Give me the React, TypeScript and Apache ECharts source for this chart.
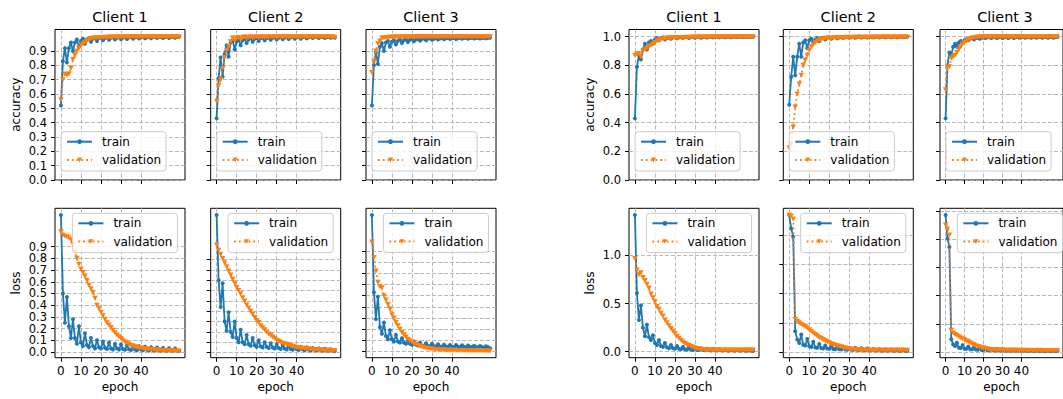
import React, { useEffect, useRef } from "react";
import * as echarts from "echarts";

// ---------- data ----------
const clients = ["Client 1", "Client 2", "Client 3"];
const epochTicks = [0, 10, 20, 30, 40];
const tenthTicks = [0, 0.1, 0.2, 0.3, 0.4, 0.5, 0.6, 0.7, 0.8, 0.9];
const accTicksB = [0, 0.2, 0.4, 0.6, 0.8, 1.0];
const lossTicksB1 = [0, 0.5, 1.0];
const lossTicksB2 = [0, 0.2, 0.4, 0.6, 0.8];
const lossTicksB3 = [0, 0.2, 0.4, 0.6, 0.8, 1.0];

// left run (A)
const accTrainA1 = [0.52,0.83,0.92,0.82,0.92,0.96,0.90,0.96,0.98,0.93,0.97,0.985,0.95,0.98,0.99,0.965,0.985,0.99,0.97,0.99,0.993,0.975,0.99,0.995,0.978,0.992,0.995,0.98,0.993,0.996,0.982,0.994,0.996,0.984,0.995,0.997,0.985,0.995,0.997,0.987,0.996,0.998,0.988,0.996,0.998,0.989,0.997,0.998,0.99,0.997,0.998,0.99,0.997,0.999,0.99,0.998,0.999,0.992,0.998,0.999];
const accValA1 = [0.56,0.70,0.74,0.73,0.74,0.78,0.84,0.87,0.90,0.92,0.94,0.95,0.96,0.97,0.98,0.985,0.99,0.99,0.992,0.993,0.994,0.994,0.996,0.995,0.997,0.996,0.997,0.998,0.997,0.998,0.998,0.997,0.998,0.999,0.998,0.999,0.998,0.999,0.999,0.998,0.999,1.0,0.999,0.999,1.0,0.999,1.0,0.999,1.0,1.0,0.999,1.0,1.0,0.999,1.0,1.0,1.0,0.999,1.0,1.0];
const lossTrainA1 = [1.17,0.50,0.25,0.47,0.22,0.12,0.28,0.12,0.07,0.22,0.08,0.05,0.16,0.06,0.04,0.12,0.05,0.03,0.10,0.04,0.03,0.09,0.035,0.025,0.08,0.03,0.02,0.07,0.03,0.02,0.065,0.025,0.018,0.06,0.022,0.016,0.055,0.02,0.015,0.05,0.02,0.014,0.045,0.018,0.013,0.04,0.017,0.012,0.038,0.016,0.011,0.035,0.015,0.01,0.032,0.014,0.01,0.03,0.013,0.009];
const lossValA1 = [1.03,1.00,0.99,0.985,0.975,0.96,0.92,0.86,0.80,0.75,0.71,0.68,0.65,0.61,0.57,0.54,0.51,0.46,0.40,0.37,0.34,0.31,0.28,0.25,0.23,0.21,0.185,0.165,0.145,0.13,0.115,0.10,0.085,0.075,0.065,0.055,0.05,0.045,0.04,0.037,0.033,0.03,0.027,0.025,0.023,0.021,0.02,0.018,0.017,0.016,0.015,0.014,0.013,0.012,0.012,0.011,0.01,0.01,0.009,0.009];

const accTrainA2 = [0.43,0.71,0.855,0.72,0.88,0.94,0.86,0.96,0.975,0.91,0.965,0.98,0.94,0.975,0.985,0.955,0.98,0.99,0.965,0.985,0.99,0.97,0.99,0.993,0.975,0.99,0.994,0.978,0.992,0.995,0.98,0.993,0.996,0.982,0.994,0.996,0.984,0.995,0.997,0.985,0.995,0.997,0.986,0.996,0.998,0.988,0.996,0.998,0.99,0.997,0.998,0.99,0.997,0.998,0.99,0.997,0.998,0.992,0.998,0.993];
const accValA2 = [0.55,0.66,0.70,0.78,0.855,0.905,0.93,0.965,0.99,0.975,0.99,0.995,0.98,0.995,1.0,0.99,0.995,1.0,0.993,0.997,1.0,0.994,0.998,1.0,0.995,0.998,1.0,0.996,0.999,1.0,0.996,0.999,1.0,0.997,0.999,1.0,0.997,0.999,1.0,0.997,0.999,1.0,0.998,0.999,1.0,0.998,0.999,1.0,0.998,0.999,1.0,0.998,0.999,1.0,0.998,0.999,1.0,0.998,0.999,0.995];
const lossTrainA2 = [1.33,0.70,0.44,0.67,0.30,0.21,0.39,0.20,0.15,0.30,0.14,0.10,0.22,0.10,0.08,0.17,0.08,0.065,0.14,0.07,0.055,0.12,0.06,0.05,0.10,0.055,0.045,0.09,0.05,0.04,0.08,0.045,0.035,0.07,0.04,0.03,0.065,0.035,0.028,0.06,0.032,0.025,0.055,0.03,0.023,0.05,0.028,0.02,0.045,0.026,0.019,0.04,0.024,0.018,0.036,0.022,0.017,0.032,0.02,0.016];
const lossValA2 = [1.04,0.99,0.95,0.91,0.87,0.83,0.79,0.75,0.71,0.67,0.63,0.60,0.57,0.53,0.50,0.46,0.43,0.40,0.37,0.34,0.31,0.29,0.26,0.24,0.22,0.20,0.18,0.165,0.15,0.135,0.12,0.11,0.10,0.09,0.085,0.08,0.072,0.065,0.06,0.055,0.05,0.047,0.044,0.041,0.038,0.036,0.034,0.032,0.03,0.029,0.027,0.026,0.025,0.024,0.023,0.022,0.022,0.021,0.02,0.02];

const accTrainA3 = [0.52,0.80,0.89,0.81,0.93,0.955,0.90,0.96,0.97,0.93,0.965,0.975,0.945,0.97,0.98,0.955,0.975,0.982,0.962,0.978,0.985,0.968,0.98,0.986,0.972,0.983,0.988,0.975,0.985,0.989,0.978,0.986,0.99,0.98,0.987,0.99,0.982,0.988,0.991,0.983,0.989,0.991,0.984,0.989,0.992,0.985,0.99,0.992,0.986,0.99,0.992,0.987,0.991,0.993,0.987,0.991,0.993,0.988,0.992,0.993];
const accValA3 = [0.75,0.83,0.90,0.95,0.97,0.99,0.99,0.995,0.995,0.996,0.997,0.997,0.998,0.997,0.998,0.998,0.999,0.998,0.999,0.999,0.998,0.999,1.0,0.999,0.999,1.0,0.999,1.0,0.999,1.0,1.0,0.999,1.0,1.0,0.999,1.0,1.0,1.0,0.999,1.0,1.0,1.0,0.999,1.0,1.0,1.0,1.0,0.999,1.0,1.0,1.0,1.0,0.999,1.0,1.0,1.0,1.0,1.0,1.0,1.0];
const lossTrainA3 = [1.22,0.53,0.29,0.49,0.22,0.16,0.26,0.14,0.11,0.19,0.11,0.09,0.15,0.09,0.08,0.12,0.08,0.07,0.10,0.07,0.06,0.09,0.06,0.055,0.08,0.055,0.05,0.075,0.05,0.047,0.07,0.048,0.045,0.065,0.046,0.043,0.062,0.045,0.042,0.06,0.044,0.041,0.058,0.043,0.04,0.056,0.042,0.039,0.054,0.041,0.038,0.052,0.04,0.037,0.05,0.039,0.036,0.048,0.038,0.03];
const lossValA3 = [0.98,0.84,0.72,0.62,0.58,0.57,0.50,0.46,0.42,0.38,0.33,0.30,0.26,0.23,0.20,0.17,0.15,0.13,0.11,0.097,0.085,0.075,0.065,0.055,0.048,0.042,0.037,0.032,0.028,0.025,0.022,0.02,0.018,0.017,0.016,0.015,0.014,0.013,0.012,0.012,0.011,0.011,0.01,0.01,0.01,0.009,0.009,0.009,0.008,0.008,0.008,0.008,0.007,0.007,0.007,0.007,0.006,0.006,0.006,0.006];

// right run (B)
const accTrainB1 = [0.43,0.79,0.87,0.84,0.91,0.95,0.91,0.96,0.97,0.95,0.98,0.99,0.975,0.99,0.995,0.98,0.99,0.995,0.985,0.995,0.997,0.988,0.996,0.998,0.99,0.997,0.998,0.99,0.997,0.999,0.992,0.998,0.999,0.993,0.998,0.999,0.994,0.999,1.0,0.995,0.999,1.0,0.995,0.999,1.0,0.996,0.999,1.0,0.996,1.0,1.0,0.997,1.0,1.0,0.997,1.0,1.0,0.997,1.0,1.0];
const accValB1 = [0.87,0.88,0.88,0.86,0.90,0.91,0.92,0.93,0.94,0.95,0.96,0.97,0.975,0.98,0.985,0.985,0.99,0.99,0.99,0.992,0.993,0.99,0.994,0.995,0.993,0.995,0.996,0.995,0.996,0.997,0.996,0.997,0.998,0.997,0.998,0.998,0.997,0.998,0.999,0.998,0.999,0.999,0.998,0.999,1.0,0.999,0.999,1.0,0.999,1.0,1.0,0.999,1.0,1.0,0.999,1.0,1.0,1.0,1.0,1.0];
const lossTrainB1 = [1.42,0.61,0.33,0.48,0.25,0.16,0.28,0.15,0.12,0.17,0.09,0.07,0.12,0.06,0.05,0.09,0.045,0.035,0.07,0.035,0.03,0.06,0.03,0.025,0.05,0.025,0.02,0.045,0.022,0.018,0.04,0.02,0.016,0.035,0.018,0.015,0.03,0.016,0.013,0.028,0.015,0.012,0.025,0.014,0.011,0.022,0.013,0.01,0.02,0.012,0.01,0.018,0.011,0.009,0.017,0.01,0.009,0.015,0.01,0.008];
const lossValB1 = [0.97,0.85,0.80,0.82,0.77,0.74,0.70,0.66,0.60,0.56,0.52,0.47,0.44,0.40,0.37,0.33,0.30,0.27,0.24,0.215,0.19,0.16,0.14,0.12,0.10,0.085,0.072,0.063,0.053,0.045,0.038,0.033,0.029,0.026,0.023,0.021,0.02,0.019,0.018,0.017,0.016,0.016,0.017,0.016,0.016,0.017,0.016,0.016,0.017,0.016,0.017,0.016,0.016,0.017,0.016,0.017,0.017,0.016,0.017,0.018];

const accTrainB2 = [0.525,0.72,0.86,0.73,0.86,0.95,0.86,0.96,0.975,0.92,0.975,0.985,0.96,0.98,0.99,0.97,0.99,0.993,0.98,0.993,0.996,0.985,0.995,0.997,0.988,0.996,0.998,0.99,0.997,0.998,0.992,0.997,0.999,0.993,0.998,0.999,0.994,0.998,0.999,0.994,0.998,0.999,0.995,0.999,1.0,0.995,0.999,1.0,0.996,0.999,1.0,0.996,0.999,1.0,0.996,0.999,1.0,0.997,0.999,1.0];
const accValB2 = [0.225,0.25,0.37,0.51,0.60,0.67,0.73,0.80,0.835,0.87,0.905,0.93,0.945,0.96,0.97,0.975,0.98,0.985,0.985,0.99,0.99,0.985,0.99,0.993,0.99,0.994,0.995,0.99,0.995,0.996,0.993,0.995,0.996,0.994,0.996,0.997,0.994,0.996,0.997,0.995,0.996,0.997,0.995,0.997,0.998,0.995,0.997,0.998,0.996,0.997,0.998,0.996,0.997,0.998,0.996,0.997,0.998,0.996,0.997,0.997];
const lossTrainB2 = [0.936,0.844,0.787,0.143,0.085,0.062,0.12,0.05,0.045,0.09,0.04,0.035,0.07,0.032,0.03,0.055,0.028,0.025,0.045,0.024,0.022,0.04,0.021,0.02,0.035,0.019,0.018,0.032,0.017,0.016,0.03,0.016,0.015,0.028,0.015,0.014,0.026,0.014,0.013,0.024,0.013,0.012,0.022,0.012,0.011,0.02,0.011,0.01,0.019,0.01,0.01,0.018,0.01,0.009,0.017,0.009,0.009,0.016,0.009,0.008];
const lossValB2 = [0.936,0.93,0.91,0.223,0.21,0.20,0.19,0.18,0.175,0.165,0.153,0.142,0.13,0.12,0.11,0.10,0.093,0.085,0.078,0.07,0.063,0.057,0.052,0.047,0.043,0.04,0.036,0.032,0.028,0.025,0.022,0.02,0.019,0.018,0.017,0.016,0.015,0.015,0.014,0.014,0.013,0.013,0.013,0.012,0.013,0.012,0.012,0.013,0.012,0.012,0.013,0.012,0.012,0.012,0.013,0.012,0.012,0.013,0.012,0.012];

const accTrainB3 = [0.43,0.80,0.89,0.87,0.93,0.95,0.93,0.96,0.97,0.96,0.975,0.98,0.975,0.985,0.99,0.98,0.99,0.993,0.985,0.993,0.995,0.99,0.995,0.997,0.99,0.995,0.997,0.99,0.995,0.997,0.99,0.995,0.997,0.991,0.996,0.997,0.991,0.996,0.997,0.992,0.996,0.998,0.992,0.996,0.998,0.992,0.996,0.998,0.993,0.997,0.998,0.993,0.997,0.998,0.993,0.997,0.998,0.993,0.997,0.998];
const accValB3 = [0.63,0.79,0.79,0.85,0.86,0.87,0.89,0.91,0.93,0.95,0.96,0.97,0.98,0.985,0.99,0.993,0.995,0.997,0.998,0.998,0.999,0.999,1.0,0.999,1.0,1.0,0.999,1.0,1.0,1.0,0.999,1.0,1.0,1.0,1.0,0.999,1.0,1.0,1.0,1.0,1.0,1.0,0.999,1.0,1.0,1.0,1.0,1.0,1.0,1.0,1.0,1.0,1.0,1.0,1.0,1.0,1.0,1.0,1.0,1.0];
const lossTrainB3 = [0.971,0.805,0.745,0.091,0.055,0.043,0.067,0.031,0.03,0.05,0.025,0.024,0.04,0.02,0.02,0.035,0.018,0.017,0.03,0.016,0.015,0.026,0.014,0.013,0.022,0.013,0.012,0.02,0.012,0.011,0.018,0.011,0.01,0.016,0.01,0.01,0.015,0.01,0.01,0.014,0.01,0.01,0.014,0.01,0.009,0.013,0.01,0.009,0.013,0.01,0.009,0.012,0.009,0.009,0.012,0.009,0.009,0.012,0.009,0.009];
const lossValB3 = [0.90,0.87,0.83,0.155,0.135,0.125,0.118,0.11,0.10,0.095,0.088,0.08,0.073,0.066,0.058,0.052,0.046,0.041,0.036,0.032,0.029,0.026,0.023,0.021,0.019,0.018,0.017,0.016,0.016,0.015,0.015,0.014,0.014,0.014,0.013,0.014,0.013,0.013,0.013,0.013,0.012,0.013,0.013,0.012,0.012,0.013,0.012,0.012,0.012,0.013,0.012,0.012,0.012,0.012,0.012,0.012,0.012,0.012,0.012,0.012];

// ---------- layout ----------
const PANEL_LEFTS = [55, 210.7, 366, 629, 783.3, 940];
const PANEL_W = 130;
const ACC_TOP = 29.5;
const ACC_H = 150.5;
const LOSS_TOP = 208.3;
const LOSS_H = 149.4;
const FONT = "DejaVu Sans";
const TEXT = "#000";
const BLUE = "#1f77b4";
const ORANGE = "#ff7f0e";
const GRIDC = "#b0b0b0";

type Panel = {
  row: "acc" | "loss";
  col: number;
  train: number[];
  val: number[];
  ticks: number[];
  fixed?: [number, number];
  splitLabels?: boolean;
};

const panels: Panel[] = [
  { row: "acc", col: 0, train: accTrainA1, val: accValA1, ticks: tenthTicks, fixed: [0, 1.05] },
  { row: "acc", col: 1, train: accTrainA2, val: accValA2, ticks: tenthTicks, fixed: [0, 1.05] },
  { row: "acc", col: 2, train: accTrainA3, val: accValA3, ticks: tenthTicks, fixed: [0, 1.05] },
  { row: "acc", col: 3, train: accTrainB1, val: accValB1, ticks: accTicksB, fixed: [0, 1.05] },
  { row: "acc", col: 4, train: accTrainB2, val: accValB2, ticks: accTicksB, fixed: [0, 1.05] },
  { row: "acc", col: 5, train: accTrainB3, val: accValB3, ticks: accTicksB, fixed: [0, 1.05] },
  { row: "loss", col: 0, train: lossTrainA1, val: lossValA1, ticks: tenthTicks, splitLabels: true },
  { row: "loss", col: 1, train: lossTrainA2, val: lossValA2, ticks: tenthTicks },
  { row: "loss", col: 2, train: lossTrainA3, val: lossValA3, ticks: tenthTicks },
  { row: "loss", col: 3, train: lossTrainB1, val: lossValB1, ticks: lossTicksB1 },
  { row: "loss", col: 4, train: lossTrainB2, val: lossValB2, ticks: lossTicksB2 },
  { row: "loss", col: 5, train: lossTrainB3, val: lossValB3, ticks: lossTicksB3 },
];

const labelStyle = {
  fontFamily: FONT, fontSize: 11.5, color: TEXT,
  showMinLabel: true, showMaxLabel: true, hideOverlap: false,
};

function buildOption() {
  const grid: any[] = [];
  const xAxis: any[] = [];
  const yAxis: any[] = [];
  const extraY: any[] = [];
  const series: any[] = [];
  const legend: any[] = [];
  const graphic: any[] = [];

  const n = accTrainA1.length;
  const xMin = 0 - 0.05 * (n - 1);
  const xMax = n - 1 + 0.05 * (n - 1);

  panels.forEach((p, k) => {
    const left = PANEL_LEFTS[p.col];
    const top = p.row === "acc" ? ACC_TOP : LOSS_TOP;
    const height = p.row === "acc" ? ACC_H : LOSS_H;
    const firstCol = p.col === 0 || p.col === 3;
    const bottomRow = p.row === "loss";

    let yMin: number, yMax: number;
    if (p.fixed) {
      [yMin, yMax] = p.fixed;
    } else {
      const all = p.train.concat(p.val);
      const lo = Math.min(...all);
      const hi = Math.max(...all);
      yMin = lo - 0.05 * (hi - lo);
      yMax = hi + 0.05 * (hi - lo);
    }

    grid.push({
      left, top, width: PANEL_W, height,
      show: true, borderColor: "#000", borderWidth: 1, backgroundColor: "transparent",
      containLabel: false,
    });

    xAxis.push({
      type: "value", gridIndex: k, min: xMin, max: xMax,
      axisLine: { show: false, onZero: false },
      axisTick: { show: true, inside: false, length: 4, lineStyle: { color: "#000", width: 1 }, customValues: epochTicks },
      axisLabel: {
        ...labelStyle, fontSize: 12,
        show: bottomRow, customValues: epochTicks, margin: 7,
        formatter: (v: number) => String(Math.round(v)),
      },
      splitLine: { show: true, lineStyle: { color: GRIDC, width: 0.9, type: [4, 2] } },
      name: bottomRow ? "epoch" : "",
      nameLocation: "middle", nameGap: 23,
      nameTextStyle: { fontFamily: FONT, fontSize: 12, color: TEXT },
    });

    const mainLabels = p.splitLabels ? p.ticks.filter((_, i) => i % 2 === 0) : p.ticks;
    const altLabels = p.ticks.filter((_, i) => i % 2 === 1);

    yAxis.push({
      type: "value", gridIndex: k, min: yMin, max: yMax,
      axisLine: { show: false, onZero: false },
      axisTick: { show: true, inside: false, length: 4, lineStyle: { color: "#000", width: 1 }, customValues: p.ticks },
      axisLabel: {
        ...labelStyle,
        show: firstCol, customValues: mainLabels, margin: 8,
        formatter: (v: number) => v.toFixed(1),
      },
      splitLine: { show: true, lineStyle: { color: GRIDC, width: 0.9, type: [4, 2] } },
      name: firstCol ? (p.row === "acc" ? "accuracy" : "loss") : "",
      nameLocation: "middle", nameGap: 33,
      nameTextStyle: { fontFamily: FONT, fontSize: 12, color: TEXT },
    });

    if (p.splitLabels) {
      // second label layer for the same ticks, so tightly packed labels all stay visible
      extraY.push({
        type: "value", gridIndex: k, min: yMin, max: yMax, position: "left", offset: 0,
        axisLine: { show: false, onZero: false },
        axisTick: { show: false, customValues: altLabels },
        axisLabel: {
          ...labelStyle,
          show: true, customValues: altLabels, margin: 8,
          formatter: (v: number) => v.toFixed(1),
        },
        splitLine: { show: false },
      });
    }

    series.push({
      type: "line", name: "train", xAxisIndex: k, yAxisIndex: k,
      data: p.train.map((v, i) => [i, v]),
      symbol: "circle", symbolSize: 4,
      itemStyle: { color: BLUE },
      lineStyle: { color: BLUE, width: 1.8 },
      silent: true, animation: false, z: 2,
      emphasis: { disabled: true },
    });
    series.push({
      type: "line", name: "validation", xAxisIndex: k, yAxisIndex: k,
      data: p.val.map((v, i) => [i, v]),
      symbol: "path://M0,0L10,0L5,9Z", symbolSize: [5.5, 5],
      itemStyle: { color: ORANGE },
      lineStyle: { color: ORANGE, width: 1.8, type: [1.8, 3] },
      silent: true, animation: false, z: 3,
      emphasis: { disabled: true },
    });

    const legW = 106;
    const legH = 40;
    const legLeft = p.row === "acc" ? left + 6 : left + PANEL_W - 6.6 - legW;
    const legTop = p.row === "acc" ? top + height - 8.3 - legH : top + 5;
    legend.push({
      data: ["train", "validation"],
      orient: "vertical",
      left: legLeft, top: legTop,
      itemWidth: 25, itemHeight: 6, itemGap: 6.3,
      padding: [4, 5, 5, 5],
      backgroundColor: "rgba(255,255,255,0.8)",
      borderColor: "#cccccc", borderWidth: 1, borderRadius: 3,
      selectedMode: false,
      textStyle: { fontFamily: FONT, fontSize: 12, lineHeight: 12, color: TEXT, padding: [0, 0, 0, 5] },
      z: 10,
    });

    if (p.row === "acc") {
      graphic.push({
        type: "text", x: left + PANEL_W / 2, y: 16.5,
        style: {
          text: clients[p.col % 3], fontFamily: FONT, fontSize: 14.4, fill: TEXT,
          align: "center", verticalAlign: "middle",
        },
      });
    }
  });

  return {
    animation: false,
    backgroundColor: "#ffffff",
    grid, xAxis, yAxis: yAxis.concat(extraY), series, legend, graphic,
  };
}

export default function App() {
  const ref = useRef<HTMLDivElement>(null);
  useEffect(() => {
    if (!ref.current) return;
    const chart = echarts.init(ref.current, undefined, { renderer: "svg" });
    chart.setOption(buildOption() as any);
    return () => chart.dispose();
  }, []);
  return (
    <div
      ref={ref}
      style={{ position: "absolute", left: 0, top: 0, width: 1063, height: 399, background: "#fff" }}
    />
  );
}
